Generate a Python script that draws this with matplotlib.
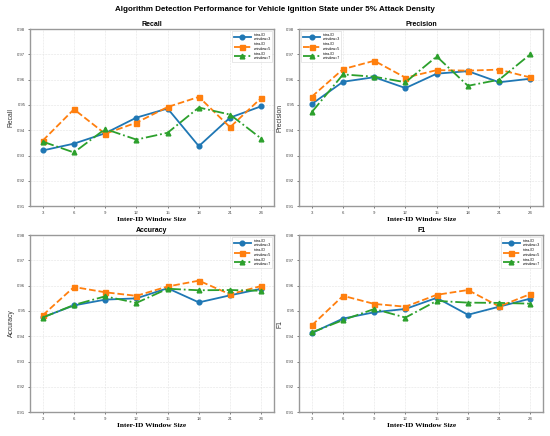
import matplotlib
matplotlib.use("Agg")
import matplotlib.pyplot as plt

plt.rcParams["font.family"] = ["Liberation Sans", "DejaVu Sans"]

window_sizes = [3, 6, 9, 12, 15, 18, 21, 24]
series_labels = ["intra-ID\nwindow=3", "intra-ID\nwindow=5", "intra-ID\nwindow=7"]

recall_w3 = [0.9320, 0.9347, 0.9388, 0.9450, 0.9486, 0.9337, 0.9450, 0.9495]
recall_w5 = [0.9359, 0.9483, 0.9386, 0.9430, 0.9492, 0.9532, 0.9412, 0.9528]
recall_w7 = [0.9355, 0.9312, 0.9405, 0.9363, 0.9390, 0.9490, 0.9462, 0.9367]

precision_w3 = [0.9504, 0.9592, 0.9610, 0.9567, 0.9624, 0.9634, 0.9590, 0.9604]
precision_w5 = [0.9533, 0.9642, 0.9675, 0.9608, 0.9638, 0.9636, 0.9640, 0.9609]
precision_w7 = [0.9472, 0.9621, 0.9612, 0.9590, 0.9692, 0.9576, 0.9600, 0.9701]

accuracy_w3 = [0.9475, 0.9522, 0.9545, 0.9550, 0.9590, 0.9534, 0.9562, 0.9588]
accuracy_w5 = [0.9483, 0.9595, 0.9574, 0.9560, 0.9597, 0.9620, 0.9566, 0.9599]
accuracy_w7 = [0.9474, 0.9524, 0.9558, 0.9532, 0.9588, 0.9582, 0.9583, 0.9580]

f1_w3 = [0.9413, 0.9470, 0.9495, 0.9508, 0.9552, 0.9485, 0.9517, 0.9549]
f1_w5 = [0.9443, 0.9560, 0.9528, 0.9517, 0.9564, 0.9583, 0.9518, 0.9567]
f1_w7 = [0.9415, 0.9464, 0.9508, 0.9474, 0.9540, 0.9533, 0.9532, 0.9529]

y_ticks = [0.91, 0.92, 0.93, 0.94, 0.95, 0.96, 0.97, 0.98]

panels = [
    ("Recall", [recall_w3, recall_w5, recall_w7], "upper right"),
    ("Precision", [precision_w3, precision_w5, precision_w7], "upper left"),
    ("Accuracy", [accuracy_w3, accuracy_w5, accuracy_w7], "upper right"),
    ("F1", [f1_w3, f1_w5, f1_w7], "upper right"),
]

colors = ["#1f77b4", "#ff7f0e", "#2ca02c"]
markers = ["o", "s", "^"]
styles = ["-", "--", "-."]

fig, axes = plt.subplots(2, 2, figsize=(5.5, 4.36), dpi=100)
fig.subplots_adjust(left=0.055, right=0.987, top=0.933, bottom=0.055, wspace=0.105, hspace=0.165)
fig.suptitle("Algorithm Detection Performance for Vehicle Ignition State under 5% Attack Density",
             fontsize=5.8, fontweight="bold", y=0.987)

for ax, (name, data, loc) in zip(axes.flat, panels):
    for vals, c, m, ls, lab in zip(data, colors, markers, styles, series_labels):
        ax.plot(window_sizes, vals, color=c, marker=m, linestyle=ls, linewidth=1.3,
                markersize=3.4 if m != "s" else 3.6, label=lab)
    ax.set_title(name, fontsize=5.0, fontweight="bold", pad=2.5)
    ax.set_ylim(0.91, 0.98)
    ax.set_yticks(y_ticks)
    ax.set_yticklabels([f"{t:.2f}" for t in y_ticks])
    ax.set_xticks(window_sizes)
    ax.set_xlim(1.8, 25.2)
    ax.tick_params(axis="both", labelsize=3.1, length=1.5, width=0.5, pad=2, colors="#444444")
    ax.grid(True, linestyle="--", linewidth=0.4, color="#dddddd", alpha=0.8)
    ax.set_xlabel("Inter-ID Window Size", fontsize=5.3, fontweight="bold",
                  family="Liberation Serif", labelpad=1.2)
    ax.set_ylabel(name, fontsize=4.9, labelpad=2, color="#333333")
    for s in ax.spines.values():
        s.set_color("#999999")
        s.set_linewidth(1.0)
    leg = ax.legend(loc=loc, fontsize=2.6, handlelength=4.8, labelspacing=0.25,
                    borderpad=0.5, frameon=True, fancybox=False)
    leg.get_frame().set_linewidth(0.4)
    leg.get_frame().set_edgecolor("#cccccc")

fig.savefig("out.png", dpi=100)
